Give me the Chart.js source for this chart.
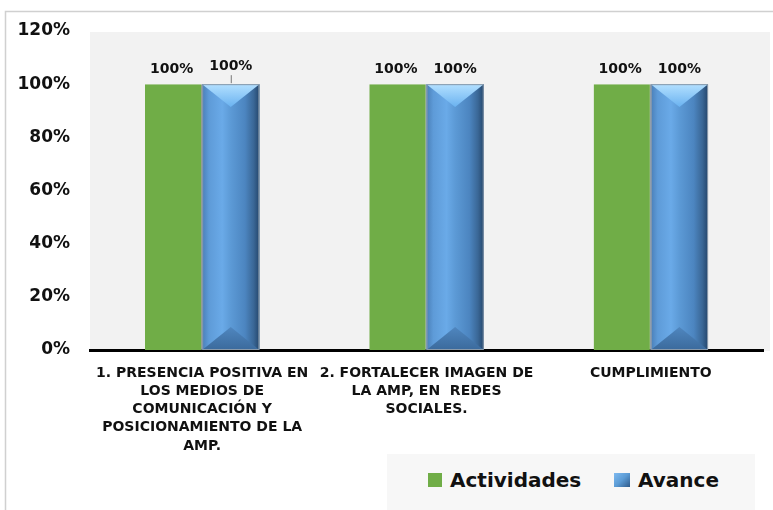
<!DOCTYPE html>
<html><head><meta charset="utf-8">
<script src="https://cdn.jsdelivr.net/npm/chart.js@4"></script>
<style>
html,body{margin:0;padding:0;background:#fff;}
#wrap{position:relative;width:773px;height:510px;}
#legend{position:absolute;left:387px;top:454px;width:368px;height:56px;background:#f7f7f7;font-family:"DejaVu Sans";font-weight:bold;font-size:20px;color:#111;}
.li{position:absolute;top:14px;display:flex;align-items:center;}
.sw{display:inline-block;width:14px;height:14px;margin-right:8px;}
</style></head>
<body><div id="wrap"><canvas id="c" width="773" height="510"></canvas>
<div id="legend">
<div class="li" style="left:41px"><span class="sw" style="background:#70ad47"></span>Actividades</div>
<div class="li" style="left:227px"><span class="sw" style="width:16px;background:linear-gradient(135deg,#7fbaf0 0%,#5b9bd5 50%,#2f5a8a 100%)"></span>Avance</div>
</div></div>
<script>
const categories = [
  ["1. PRESENCIA POSITIVA EN","LOS MEDIOS DE","COMUNICACIÓN Y","POSICIONAMIENTO DE LA","AMP."],
  ["2. FORTALECER IMAGEN DE","LA AMP, EN  REDES","SOCIALES."],
  ["CUMPLIMIENTO"]
];
const seriesNames = ["Actividades","Avance"];
const actividades = [1.00, 1.00, 1.00];
const avance = [1.00, 1.00, 1.00];
const yTickMax = 1.2, yTickStep = 0.2;

const FONT = "DejaVu Sans";

const frame = {
  id:'frame',
  beforeDraw(chart){
    const ctx = chart.ctx, a = chart.chartArea;
    ctx.save();
    ctx.fillStyle='#fff'; ctx.fillRect(0,0,chart.width,chart.height);
    ctx.strokeStyle='#d0d0d0'; ctx.lineWidth=1.5;
    ctx.strokeRect(5.5,11.5,chart.width+10,chart.height+10);
    ctx.fillStyle='#f2f2f2';
    ctx.fillRect(a.left, a.top+1, a.right-a.left+7, a.bottom-a.top);
    ctx.restore();
  }
};

const bevel = {
  id:'bevel',
  afterDatasetsDraw(chart){
    const ctx = chart.ctx;
    const meta = chart.getDatasetMeta(1);
    meta.data.forEach(el=>{
      const l = el.x - el.width/2, r = el.x + el.width/2, t = el.y, b = el.base, w = el.width;
      const d = w*0.4;
      ctx.save();
      const g = ctx.createLinearGradient(l,0,r,0);
      g.addColorStop(0,'#4a7fb8');
      g.addColorStop(0.12,'#5e9bd8');
      g.addColorStop(0.35,'#6aaae8');
      g.addColorStop(0.5,'#5c9ad6');
      g.addColorStop(0.75,'#4c85c0');
      g.addColorStop(0.9,'#3a6796');
      g.addColorStop(1,'#24466c');
      ctx.fillStyle=g; ctx.fillRect(l,t,w,b-t);
      const gt = ctx.createLinearGradient(0,t,0,t+d);
      gt.addColorStop(0,'#b3e0ff'); gt.addColorStop(1,'#6ab2f0');
      ctx.beginPath(); ctx.moveTo(l,t); ctx.lineTo(r,t); ctx.lineTo(el.x,t+d); ctx.closePath();
      ctx.fillStyle=gt; ctx.fill();
      const gb = ctx.createLinearGradient(0,b-d,0,b);
      gb.addColorStop(0,'#4f86bf'); gb.addColorStop(1,'#3b6a9c');
      ctx.beginPath(); ctx.moveTo(l,b); ctx.lineTo(r,b); ctx.lineTo(el.x,b-d); ctx.closePath();
      ctx.fillStyle=gb; ctx.fill();
      ctx.strokeStyle='#8a9aaa'; ctx.lineWidth=1;
      ctx.strokeRect(l+0.5,t+0.5,w-1,b-t-1);
      ctx.restore();
    });
  }
};

const labels = {
  id:'dlabels',
  afterDatasetsDraw(chart){
    const ctx = chart.ctx;
    ctx.save();
    ctx.font = 'bold 14px "'+FONT+'"';
    ctx.fillStyle='#111'; ctx.textAlign='center'; ctx.textBaseline='bottom';
    chart.data.datasets.forEach((ds,di)=>{
      chart.getDatasetMeta(di).data.forEach((el,i)=>{
        const v = ds.data[i];
        let y = el.y - 8;
        if(di===1 && i===0){
          ctx.strokeStyle='#777'; ctx.lineWidth=1;
          ctx.beginPath(); ctx.moveTo(el.x+0.5, el.y-1); ctx.lineTo(el.x+0.5, el.y-9); ctx.stroke();
          y = el.y - 11;
        }
        ctx.fillText(Math.round(v*100)+'%', el.x + (di===0?-2:0), y);
      });
    });
    ctx.restore();
  }
};

new Chart(document.getElementById('c'),{
  type:'bar',
  data:{
    labels:categories,
    datasets:[
      {label:seriesNames[0], data:actividades, backgroundColor:'#70ad47', borderColor:'#8c8c8c', borderWidth:{left:0,right:1,top:0,bottom:0}, barPercentage:1.0, categoryPercentage:0.51},
      {label:seriesNames[1], data:avance, backgroundColor:'#5b9bd5', barPercentage:1.0, categoryPercentage:0.51}
    ]
  },
  options:{
    responsive:false, animation:false,
    layout:{padding:{top:31,right:10,left:0,bottom:0}},
    plugins:{legend:{display:false}, tooltip:{enabled:false}},
    scales:{
      y:{min:0,max:yTickMax,
        ticks:{stepSize:yTickStep, padding:12, color:'#111', font:{family:FONT, weight:'bold', size:17},
          callback:v=>Math.round(v*100)+'%'},
        grid:{display:false}, border:{display:false},
        afterFit(s){s.width=90;}
      },
      x:{
        ticks:{padding:6, color:'#111', font:{family:FONT, weight:'bold', size:14, lineHeight:1.3}, maxRotation:0, autoSkip:false},
        grid:{display:false},
        border:{color:'#000', width:3},
        afterFit(s){s.height=160;}
      }
    }
  },
  plugins:[frame, bevel, labels]
});
</script></body></html>
